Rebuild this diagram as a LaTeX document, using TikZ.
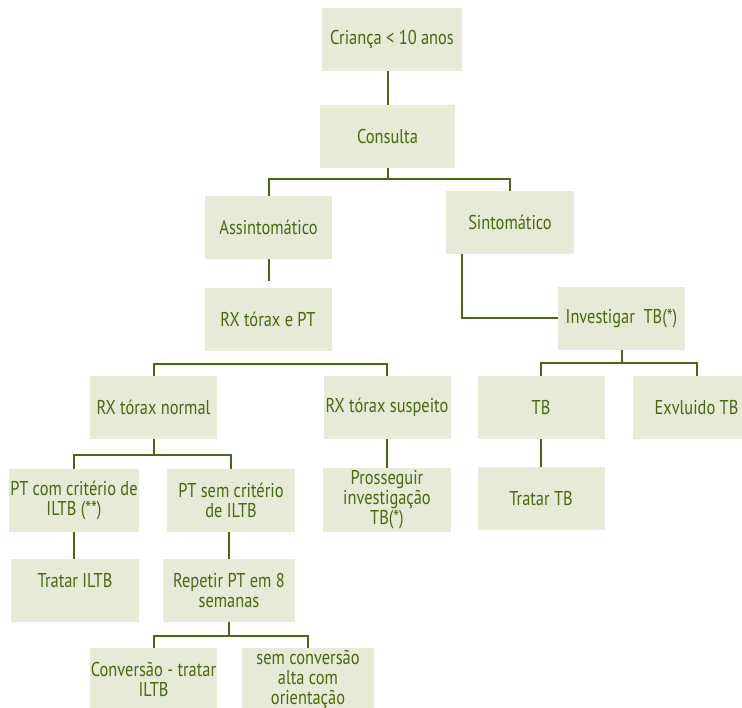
\documentclass[tikz,border=0pt]{standalone}
\usepackage{fontspec}
\setmainfont{PT Sans}[FakeStretch=0.82]
\usepackage{tikz}
\definecolor{folha}{RGB}{74,104,20}
\definecolor{fundo}{RGB}{230,234,214}
\tikzstyle{caixa}=[rectangle, fill=fundo, text=folha, minimum width=127, minimum height=63, inner sep=1pt, align=center, font=\fontsize{20}{20}\selectfont]
\tikzstyle{liga}=[draw=folha, line width=2pt]

\begin{document}
\begin{tikzpicture}[x=1pt, y=-1pt]
                                        \useasboundingbox (0,0) rectangle (742,708);
                                        \clip (0,0) rectangle (742,708);
                                        \node[caixa, minimum width=140] (crianca) at (392,39.5) {Criança < 10 anos};
                                        \node[caixa, minimum width=135] (consulta) at (387.5,136.5) {Consulta};
                                        \node[caixa] (assint) at (268.5,227.5) {Assintomático};
                                        \node[caixa, minimum width=128] (sint) at (510,222.5) {Sintomático};
                                        \node[caixa] (rxpt) at (268,319.5) {RX tórax e PT};
                                        \node[caixa] (invest) at (621.5,318.5) {Investigar~ TB(*)};
                                        
                                        \node[caixa] (rxnormal) at (153.5,407.5) {RX tórax normal};
                                        \node[caixa] (rxsusp) at (387,407.5) {RX tórax suspeito};
                                        \node[caixa] (tb) at (541,407.5) {TB};
                                        \node[caixa] (excl) at (696.5,407.5) {Exvluido TB};
                                        
                                        \node[caixa, minimum width=128] (ptcom) at (74,500.5) {PT com critério de\\ILTB (**)};
                                        \node[caixa, minimum width=128] (ptsem) at (231,500.5) {PT sem critério\\de ILTB};
                                        \node[caixa, minimum width=128] (prosseg) at (387,500) {Prosseguir\\investigação\\TB(*)};
                                        \node[caixa] (tratartb) at (541,498.5) {Tratar TB};
                                        
                                        \node[caixa, minimum width=128] (tratariltb) at (75,590.5) {Tratar ILTB\\~};
                                        \node[caixa, minimum width=132] (repetir) at (229,590.5) {Repetir PT em 8\\semanas};
                                        \node[caixa] (conversao) at (153.5,679.5) {Conversão - tratar\\ILTB};
                                        \node[caixa, minimum width=132] (semconv) at (308,679.5) {sem conversão\\alta com\\orientação};
                                        
                                        \draw[liga] (consulta.north) -- (consulta.north |- crianca.south);
                                        \draw[liga] (consulta.south) -- ++(0,11) coordinate (k1);
                                        \draw[liga] (assint.north) |- (k1) -| (sint.north);
                                        \draw[liga] (assint.south) -- ++(0,22);
                                        \draw[liga] (rxnormal.north) -- ++(0,-12) -| (rxsusp.north);
                                        \draw[liga] ([xshift=16]sint.south west) |- (invest.west);
                                        
                                        \draw[liga] (invest.south) -- ++(0,13) coordinate (k2);
                                        \draw[liga] (tb.north) |- (k2) -| (excl.north);
                                        \draw[liga] (rxnormal.south) -- ++(0,16) coordinate (k3);
                                        \draw[liga] (ptcom.north) |- (k3) -| (ptsem.north);
                                        \draw[liga] (rxsusp) -- (prosseg);
                                        \draw[liga] (tb) -- (tratartb);
                                        
                                        \draw[liga] (ptcom.south) -- (ptcom.south |- tratariltb.north);
                                        \draw[liga] (repetir.north) -- (repetir.north |- ptsem.south);
                                        \draw[liga] (repetir.south) -- ++(0,14) coordinate (k4);
                                        \draw[liga] (conversao.north) |- (k4) -| (semconv.north);
                                    \end{tikzpicture}
\end{document}
